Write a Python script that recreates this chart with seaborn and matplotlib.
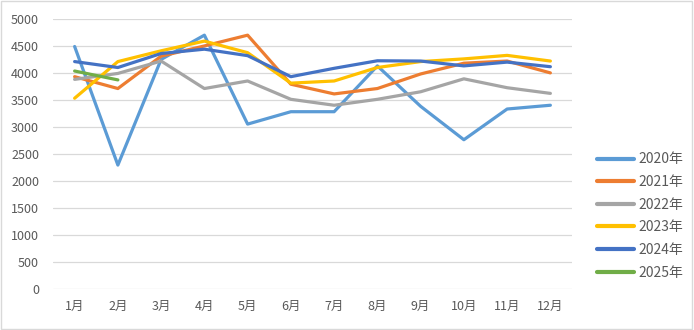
import matplotlib
matplotlib.use("Agg")
import matplotlib.pyplot as plt
import seaborn as sns
import pandas as pd
from matplotlib.patches import Rectangle

months = ["1月", "2月", "3月", "4月", "5月", "6月", "7月", "8月", "9月", "10月", "11月", "12月"]
y2020 = [4490, 2290, 4250, 4700, 3050, 3280, 3280, 4130, 3380, 2760, 3330, 3400]
y2021 = [3930, 3710, 4310, 4500, 4700, 3790, 3610, 3710, 3980, 4180, 4220, 4000]
y2022 = [3880, 3990, 4220, 3710, 3850, 3510, 3400, 3510, 3650, 3890, 3725, 3620]
y2023 = [3530, 4210, 4410, 4590, 4375, 3810, 3850, 4100, 4210, 4260, 4325, 4220]
y2024 = [4210, 4100, 4360, 4440, 4320, 3930, 4085, 4225, 4220, 4130, 4200, 4115]
y2025 = [4035, 3870]
series_names = ["2020年", "2021年", "2022年", "2023年", "2024年", "2025年"]
colors = ["#5B9BD5", "#ED7D31", "#A5A5A5", "#FFC000", "#4472C4", "#70AD47"]

rows = []
for name, vals in zip(series_names, [y2020, y2021, y2022, y2023, y2024, y2025]):
    for i, v in enumerate(vals):
        rows.append({"月份": i, "数值": v, "年份": name})
df = pd.DataFrame(rows)

sns.set_theme(style="white")
plt.rcParams["font.family"] = ["Noto Sans CJK SC", "DejaVu Sans"]

fig = plt.figure(figsize=(6.94, 3.30), dpi=100)
ax = fig.add_axes([53 / 694, (330 - 288.5) / 330, (572 - 53) / 694, (288.5 - 19) / 330])

sns.lineplot(data=df, x="月份", y="数值", hue="年份", hue_order=series_names,
             palette=colors, linewidth=2.3, ax=ax, legend=True, sort=False)

ax.set_xlim(-0.5, 11.5)
ax.set_ylim(0, 5000)
ax.set_yticks(range(0, 5001, 500))
ax.set_xticks(range(12))
ax.set_xticklabels(months)
ax.set_xlabel("")
ax.set_ylabel("")
ax.grid(axis="y", color="#D9D9D9", linewidth=0.9)
ax.set_axisbelow(True)
for s in ax.spines.values():
    s.set_visible(False)
ax.tick_params(axis="both", length=0, labelsize=9, colors="#595959")
ax.tick_params(axis="x", pad=8)
ax.tick_params(axis="y", pad=10)

leg = ax.legend(loc="center left", frameon=False, fontsize=10,
                handlelength=2.7, handletextpad=0.35, labelspacing=0.62)
leg.set_bbox_to_anchor((584 / 694, (330 - 216) / 330), transform=fig.transFigure)
for t in leg.get_texts():
    t.set_color("#595959")
for line in leg.get_lines():
    line.set_linewidth(3)

fig.patches.append(Rectangle((0.002, 0.003), 0.995, 0.993, transform=fig.transFigure,
                             fill=False, edgecolor="#D9D9D9", linewidth=1))

fig.savefig("out.png", dpi=100)
